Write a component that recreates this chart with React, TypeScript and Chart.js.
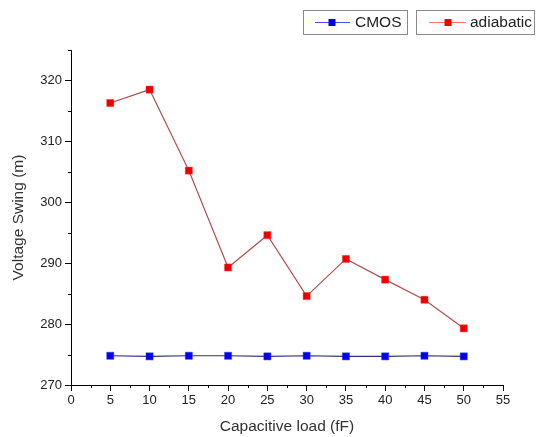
import React, { useEffect, useRef } from "react";
import { Chart, registerables } from "chart.js";

Chart.register(...registerables);

const loads = [5, 10, 15, 20, 25, 30, 35, 40, 45, 50];
const cmos = [274.8, 274.7, 274.8, 274.8, 274.7, 274.8, 274.7, 274.7, 274.8, 274.7];
const adiabatic = [316.3, 318.5, 305.2, 289.3, 294.6, 284.6, 290.7, 287.3, 284.0, 279.3];
const xTicks = [0, 5, 10, 15, 20, 25, 30, 35, 40, 45, 50, 55];
const xMinorTicks = [2.5, 7.5, 12.5, 17.5, 22.5, 27.5, 32.5, 37.5, 42.5, 47.5, 52.5];
const yTicks = [270, 280, 290, 300, 310, 320];
const yMinorTicks = [275, 285, 295, 305, 315, 325];
const seriesNames = ["CMOS", "adiabatic"];

const FONT = "'Liberation Sans', Arial, sans-serif";

const minorTicksPlugin = {
  id: "minorTicks",
  afterDraw(chart: any) {
    const ctx = chart.ctx;
    const xs = chart.scales.x;
    const ys = chart.scales.y;
    const area = chart.chartArea;
    ctx.save();
    ctx.strokeStyle = "#000";
    ctx.lineWidth = 1;
    ctx.beginPath();
    xMinorTicks.forEach((v) => {
      const px = Math.round(xs.getPixelForValue(v)) + 0.5;
      ctx.moveTo(px, area.bottom);
      ctx.lineTo(px, area.bottom + 3);
    });
    yMinorTicks.forEach((v) => {
      const py = Math.round(ys.getPixelForValue(v)) + 0.5;
      ctx.moveTo(area.left, py);
      ctx.lineTo(area.left - 3, py);
    });
    ctx.stroke();
    ctx.restore();
  },
};

const legendPlugin = {
  id: "customLegend",
  afterDraw(chart: any) {
    const ctx = chart.ctx;
    const boxes = [
      { x: 303.5, w: 104, l0: 315, l1: 350, m: 332, t: 355, line: "#4a4aff", fill: "#0000ee" },
      { x: 416.5, w: 118, l0: 429, l1: 466, m: 448, t: 470, line: "#ff7070", fill: "#ee0000" },
    ];
    ctx.save();
    boxes.forEach((b, i) => {
      ctx.strokeStyle = "#8a8a8a";
      ctx.lineWidth = 1;
      ctx.strokeRect(b.x, 10.5, b.w, 24);
      ctx.strokeStyle = b.line;
      ctx.beginPath();
      ctx.moveTo(b.l0, 22.5);
      ctx.lineTo(b.l1, 22.5);
      ctx.stroke();
      ctx.fillStyle = b.fill;
      ctx.fillRect(b.m - 3.5, 19, 7, 7);
      ctx.fillStyle = "#222";
      ctx.font = `15.5px ${FONT}`;
      ctx.textBaseline = "middle";
      ctx.textAlign = "left";
      ctx.fillText(seriesNames[i], b.t, 23);
    });
    ctx.restore();
  },
};

export default function App() {
  const ref = useRef<HTMLCanvasElement>(null);
  useEffect(() => {
    document.body.style.margin = "0";
    const chart = new Chart(ref.current!, {
      type: "line",
      data: {
        datasets: [
          {
            label: seriesNames[0],
            data: loads.map((x, i) => ({ x, y: cmos[i] })),
            borderColor: "#303080",
            borderWidth: 1.2,
            pointStyle: "rect",
            pointRadius: 5,
            pointBackgroundColor: "#0000ee",
            pointBorderColor: "#3030ff",
            pointBorderWidth: 0.5,
          },
          {
            label: seriesNames[1],
            data: loads.map((x, i) => ({ x, y: adiabatic[i] })),
            borderColor: "#b05050",
            borderWidth: 1.2,
            pointStyle: "rect",
            pointRadius: 5,
            pointBackgroundColor: "#ee0000",
            pointBorderColor: "#ff3030",
            pointBorderWidth: 0.5,
          },
        ],
      },
      options: {
        responsive: false,
        animation: false,
        layout: { padding: { top: 50, right: 36, left: 0, bottom: 0 } },
        plugins: { legend: { display: false }, tooltip: { enabled: false } },
        scales: {
          x: {
            type: "linear",
            min: 0,
            max: 55,
            afterBuildTicks: (s: any) => {
              s.ticks = xTicks.map((v) => ({ value: v }));
            },
            afterFit: (s: any) => {
              s.height = 52;
            },
            grid: { drawOnChartArea: false, drawTicks: true, tickLength: 6, color: "#000" },
            border: { display: true, color: "#000", width: 1 },
            ticks: { color: "#222", font: { family: FONT, size: 13 }, padding: 2, maxRotation: 0 },
            title: {
              display: true,
              text: "Capacitive load (fF)",
              color: "#333",
              font: { family: FONT, size: 15.5 },
              padding: { top: 0, bottom: 1 },
            },
          },
          y: {
            type: "linear",
            min: 270,
            max: 325,
            afterBuildTicks: (s: any) => {
              s.ticks = yTicks.map((v) => ({ value: v }));
            },
            afterFit: (s: any) => {
              s.width = 71;
            },
            grid: { drawOnChartArea: false, drawTicks: true, tickLength: 6, color: "#000" },
            border: { display: true, color: "#000", width: 1 },
            ticks: { color: "#222", font: { family: FONT, size: 13 }, padding: 3 },
            title: {
              display: true,
              text: "Voltage Swing (m)",
              color: "#333",
              font: { family: FONT, size: 15.5 },
              padding: { top: 9, bottom: 0 },
            },
          },
        },
      },
      plugins: [minorTicksPlugin, legendPlugin],
    });
    return () => chart.destroy();
  }, []);
  return (
    <div style={{ position: "fixed", left: 0, top: 0 }}>
      <canvas ref={ref} width={539} height={437} style={{ width: 539, height: 437 }} />
    </div>
  );
}
